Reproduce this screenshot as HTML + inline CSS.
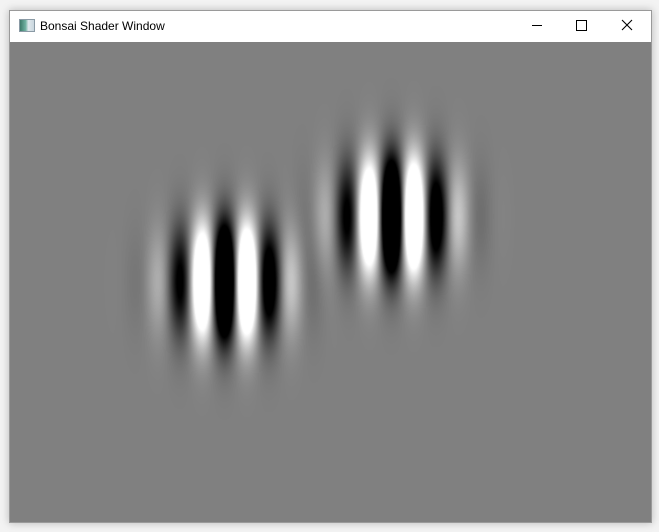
<!DOCTYPE html>
<html><head><meta charset="utf-8"><style>
html,body{margin:0;padding:0;width:659px;height:532px;background:#f3f3f3;overflow:hidden;font-family:"Liberation Sans",sans-serif}
#win{position:absolute;left:9px;top:10px;width:641px;height:511px;border:1px solid #9a9a9a;background:#fff;box-shadow:0 0 8px rgba(0,0,0,0.25)}
#title{position:absolute;left:0;top:0;width:641px;height:30px;background:#fff}
#icon{position:absolute;left:9px;top:8px;width:14px;height:11px;border:1px solid #8a9aa5;background:linear-gradient(90deg,#3d7a6a 0,#6fb0a0 40%,#dfe8ec 60%,#c9d6de 100%)}
#ttext{position:absolute;left:30px;top:8px;font-size:12px;color:#000}
.btn{position:absolute;top:0;width:46px;height:30px}
canvas{position:absolute;left:0;top:31px}
</style></head><body>
<div id="win">
 <div id="title">
  <div id="icon"></div>
  <div id="ttext">Bonsai Shader Window</div>
  <div class="btn" style="left:504px"><div style="position:absolute;left:18px;top:14px;width:10px;height:1px;background:#000"></div></div>
  <div class="btn" style="left:549px"><div style="position:absolute;left:17px;top:9px;width:9px;height:9px;border:1px solid #000"></div></div>
  <div class="btn" style="left:594px">
   <svg width="46" height="30"><path d="M18 9 L28 19 M28 9 L18 19" stroke="#000" stroke-width="1.1"/></svg></div>
 </div>
 <canvas id="cv" width="641" height="480"></canvas>
</div>
<script>
// patch parameters (canvas coords relative to window content origin at page 10,41)
const envelopeX=[218,385];
const carrierX=[225.5,392.5];
const centersY=[239,174];
const wavelengths=[46.5,46.5];
const sigmaX=[35,35];
const sigmaY=[38,38];
const amplitude=[3,3];
const cv=document.getElementById('cv');const ctx=cv.getContext('2d');
const W=cv.width,H=cv.height;const img=ctx.createImageData(W,H);const d=img.data;
for(let y=0;y<H;y++)for(let x=0;x<W;x++){
 let v=0;
 for(let i=0;i<envelopeX.length;i++){
  const dx=x-envelopeX[i],dy=y-centersY[i];
  const e=Math.exp(-(dx*dx/(2*sigmaX[i]*sigmaX[i])+dy*dy/(2*sigmaY[i]*sigmaY[i])));
  v+=amplitude[i]*e*Math.sin(2*Math.PI*(x-carrierX[i])/wavelengths[i]);
 }
 let c=128+127*v;c=Math.max(0,Math.min(255,c));
 const k=(y*W+x)*4;d[k]=d[k+1]=d[k+2]=c;d[k+3]=255;
}
ctx.putImageData(img,0,0);
</script>
</body></html>
